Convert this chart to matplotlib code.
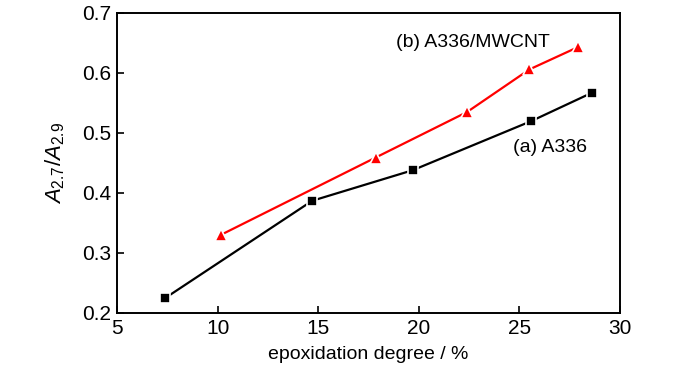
import matplotlib.pyplot as plt

plt.rcParams['font.family'] = ['Liberation Sans', 'DejaVu Sans']
plt.rcParams['mathtext.fontset'] = 'custom'
plt.rcParams['mathtext.rm'] = 'Liberation Sans'
plt.rcParams['mathtext.it'] = 'Liberation Sans:italic'

# (a) A336
grau_a = [7.4, 14.7, 19.7, 25.6, 28.6]
razao_a = [0.225, 0.387, 0.438, 0.520, 0.567]

# (b) A336/MWCNT
grau_b = [10.15, 17.85, 22.4, 25.5, 27.9]
razao_b = [0.330, 0.459, 0.535, 0.606, 0.643]

fig = plt.figure(figsize=(7, 3.74), dpi=100)
ax = fig.add_axes([117/700, 1 - 313/374, (620-117)/700, 300/374])

ax.plot(grau_a, razao_a, color='black', lw=1.6, marker='s', ms=7.5,
        mfc='black', mec='white', mew=1.2)
ax.plot(grau_b, razao_b, color='red', lw=1.6, marker='^', ms=9,
        mfc='red', mec='white', mew=1.2)

# rotulos das curvas
ax.text(22.7, 0.650, '(b) A336/MWCNT', ha='center', va='center', fontsize=14)
ax.text(26.5, 0.475, '(a) A336', ha='center', va='center', fontsize=14)

ax.set_xlim(5, 30)
ax.set_ylim(0.2, 0.7)
ax.set_xticks([5, 10, 15, 20, 25, 30])
ax.set_yticks([0.2, 0.3, 0.4, 0.5, 0.6, 0.7])
ax.set_yticklabels(['0.2', '0.3', '0.4', '0.5', '0.6', '0.7'])
ax.tick_params(direction='in', length=5, width=1.2, labelsize=15, pad=4)
for s in ax.spines.values():
    s.set_linewidth(1.4)

ax.set_xlabel('epoxidation degree / %', fontsize=14, labelpad=6)
ax.set_ylabel(r'$A_{2.7}/A_{2.9}$', fontsize=16, labelpad=11)

fig.savefig('out.png', dpi=100)
